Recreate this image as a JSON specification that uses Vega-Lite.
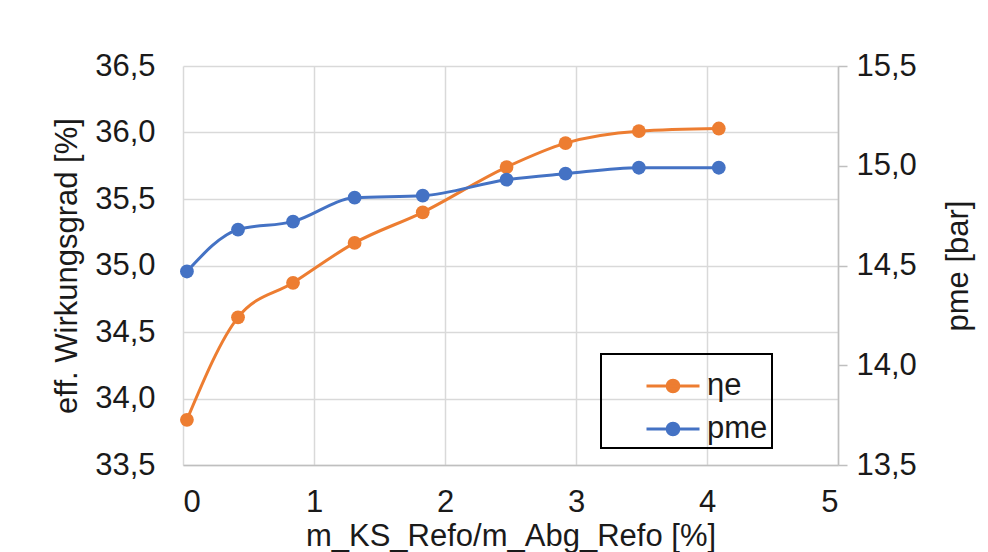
{
  "$schema": "https://vega.github.io/schema/vega-lite/v6.json",
  "width": 655,
  "height": 399,
  "autosize": {"type": "none"},
  "padding": {"left": 183, "top": 66, "right": 150, "bottom": 87},
  "background": "white",
  "data": {
    "values": [
      {"x": 0.03, "series": "ηe", "value": 33.84},
      {"x": 0.42, "series": "ηe", "value": 34.61},
      {"x": 0.84, "series": "ηe", "value": 34.87},
      {"x": 1.31, "series": "ηe", "value": 35.17},
      {"x": 1.83, "series": "ηe", "value": 35.40},
      {"x": 2.47, "series": "ηe", "value": 35.74},
      {"x": 2.92, "series": "ηe", "value": 35.92},
      {"x": 3.48, "series": "ηe", "value": 36.01},
      {"x": 4.09, "series": "ηe", "value": 36.03},
      {"x": 0.03, "series": "pme", "value": 14.47},
      {"x": 0.42, "series": "pme", "value": 14.68},
      {"x": 0.84, "series": "pme", "value": 14.72},
      {"x": 1.31, "series": "pme", "value": 14.84},
      {"x": 1.83, "series": "pme", "value": 14.85},
      {"x": 2.47, "series": "pme", "value": 14.93},
      {"x": 2.92, "series": "pme", "value": 14.96},
      {"x": 3.48, "series": "pme", "value": 14.99},
      {"x": 4.09, "series": "pme", "value": 14.99}
    ]
  },
  "encoding": {
    "x": {
      "field": "x",
      "type": "quantitative",
      "scale": {"domain": [0, 5], "nice": false, "zero": false},
      "axis": {
        "title": "m_KS_Refo/m_Abg_Refo [%]",
        "values": [0, 1, 2, 3, 4, 5],
        "format": "d",
        "grid": true,
        "ticks": false,
        "tickSize": 0,
        "labelPadding": 22,
        "titlePadding": 4,
        "domain": true
      }
    }
  },
  "layer": [
    {
      "transform": [{"filter": "datum.series === 'ηe'"}],
      "mark": {"type": "line", "interpolate": "monotone", "strokeWidth": 3, "point": {"filled": true, "size": 190}},
      "encoding": {
        "y": {
          "field": "value",
          "type": "quantitative",
          "scale": {"domain": [33.5, 36.5], "nice": false, "zero": false},
          "axis": {
            "title": "eff. Wirkungsgrad [%]",
            "orient": "left",
            "values": [33.5, 34, 34.5, 35, 35.5, 36, 36.5],
            "labelExpr": "replace(format(datum.value, '.1f'), '.', ',')",
            "grid": true,
            "ticks": false,
            "tickSize": 0,
            "domain": false,
            "labelPadding": 28,
            "titlePadding": 11
          }
        },
        "color": {
          "field": "series",
          "type": "nominal",
          "scale": {"domain": ["ηe", "pme"], "range": ["#ED7D31", "#4472C4"]},
          "legend": {
            "title": null,
            "orient": "none",
            "legendX": 418,
            "legendY": 288,
            "direction": "vertical",
            "padding": 4,
            "strokeColor": "#000000",
            "symbolType": "M-1,0H1M-0.22,0A0.22,0.22 0 1 1 0.22,0A0.22,0.22 0 1 1 -0.22,0Z",
            "symbolSize": 2809,
            "symbolStrokeWidth": 3,
            "symbolOffset": 40,
            "labelOffset": 6,
            "labelFont": "Liberation Sans",
            "labelFontSize": 31,
            "labelColor": "#1a1a1a",
            "rowPadding": -7,
            "encode": {
              "symbols": {
                "update": {
                  "fill": {"scale": "color", "field": "value"},
                  "stroke": {"scale": "color", "field": "value"},
                  "strokeWidth": {"value": 3}
                }
              }
            }
          }
        }
      }
    },
    {
      "transform": [{"filter": "datum.series === 'pme'"}],
      "mark": {"type": "line", "interpolate": "monotone", "strokeWidth": 3, "point": {"filled": true, "size": 190}},
      "encoding": {
        "y": {
          "field": "value",
          "type": "quantitative",
          "scale": {"domain": [13.5, 15.5], "nice": false, "zero": false},
          "axis": {
            "title": "pme [bar]",
            "orient": "right",
            "values": [13.5, 14, 14.5, 15, 15.5],
            "labelExpr": "replace(format(datum.value, '.1f'), '.', ',')",
            "grid": false,
            "ticks": true,
            "tickSize": 9,
            "domain": true,
            "labelPadding": 9,
            "titleAngle": 270,
            "titleBaseline": "top",
            "titlePadding": 27
          }
        },
        "color": {
          "field": "series",
          "type": "nominal",
          "scale": {"domain": ["ηe", "pme"], "range": ["#ED7D31", "#4472C4"]}
        }
      }
    }
  ],
  "resolve": {"scale": {"y": "independent"}},
  "config": {
    "view": {"stroke": null},
    "axis": {
      "labelFont": "Liberation Sans",
      "labelFontSize": 31,
      "labelColor": "#1a1a1a",
      "titleFont": "Liberation Sans",
      "titleFontSize": 31,
      "titleFontWeight": "normal",
      "titleColor": "#1a1a1a",
      "gridColor": "#d9d9d9",
      "gridWidth": 1.5,
      "domainColor": "#bfbfbf",
      "domainWidth": 1.5,
      "tickColor": "#bfbfbf",
      "tickWidth": 1.5
    },
    "legend": {"strokeWidth": 2}
  }
}
